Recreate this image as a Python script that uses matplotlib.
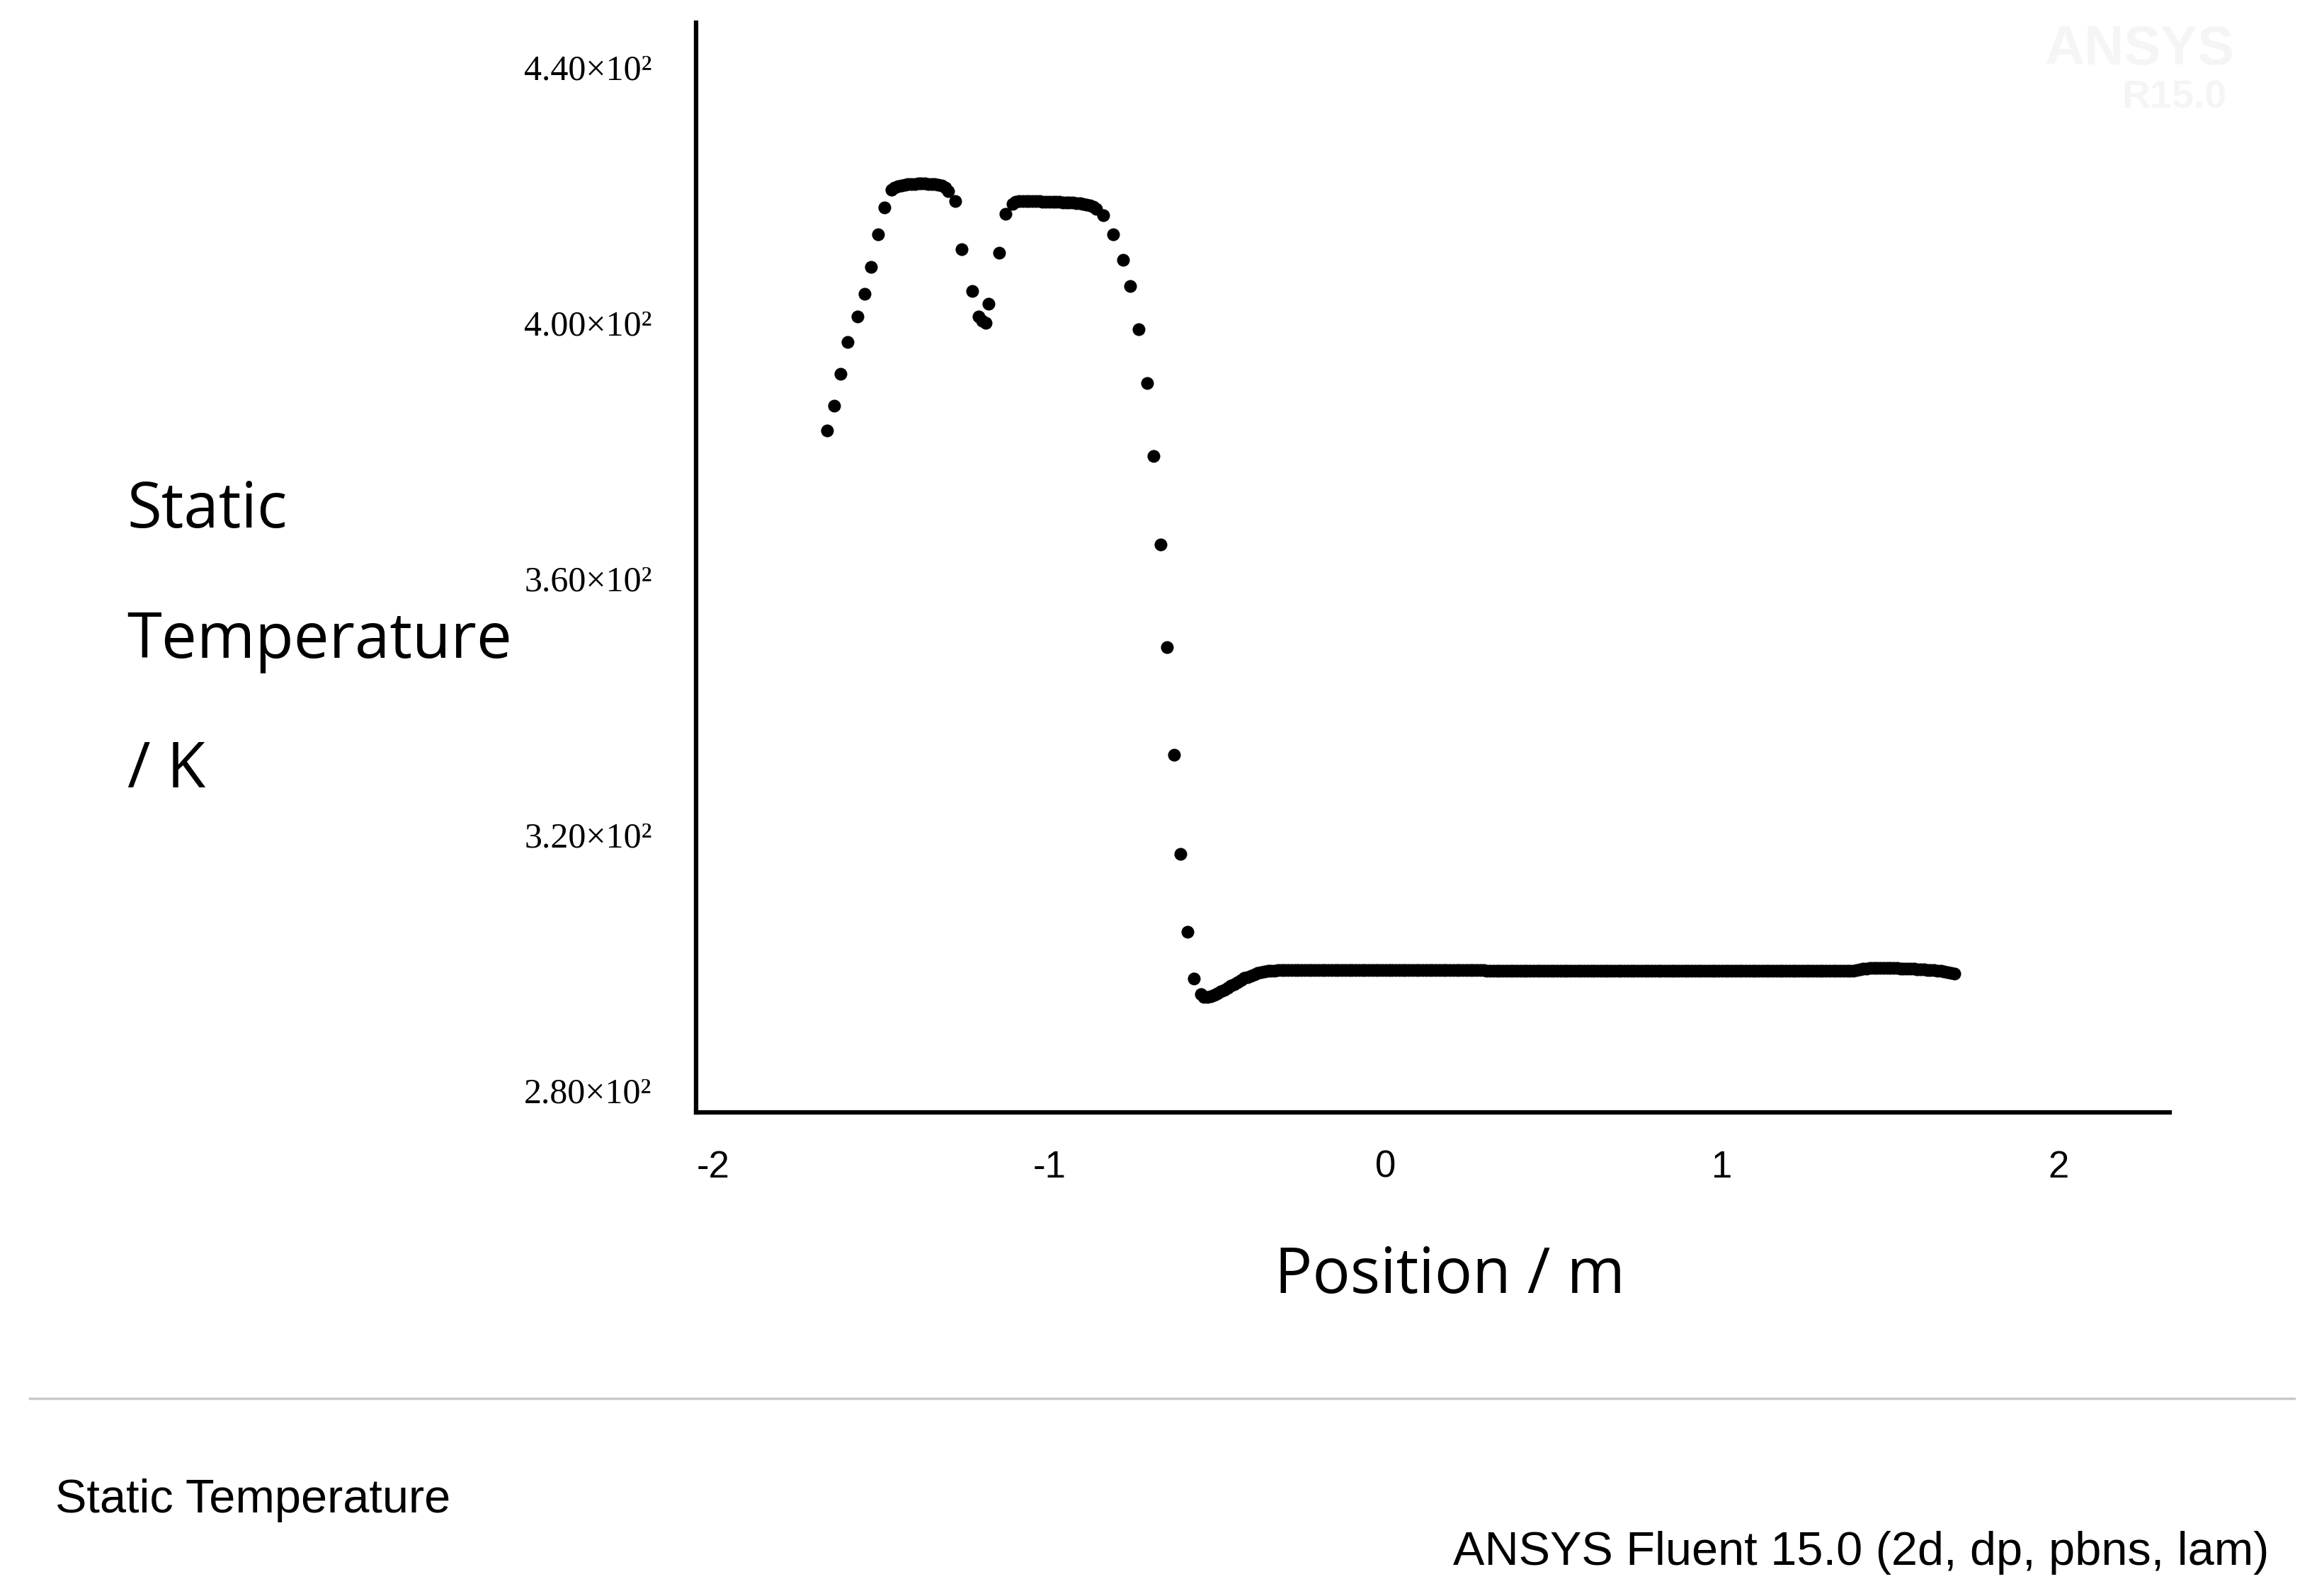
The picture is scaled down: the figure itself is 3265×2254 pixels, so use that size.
import numpy as np
import matplotlib
matplotlib.use("Agg")
import matplotlib.pyplot as plt
from matplotlib.lines import Line2D

# rising flank
x_rise = [-1.66, -1.64, -1.62, -1.60, -1.57, -1.55, -1.53, -1.51, -1.49]
y_rise = [383.2, 387.0, 392.0, 397.0, 401.0, 404.5, 408.7, 413.8, 418.0]
# first plateau
x_p1 = [-1.47, -1.46, -1.45, -1.44, -1.43, -1.42, -1.41, -1.40, -1.39, -1.38, -1.37, -1.36, -1.35, -1.34, -1.33, -1.32, -1.31, -1.30]
y_p1 = [420.8, 421.2, 421.4, 421.5, 421.6, 421.7, 421.7, 421.7, 421.8, 421.8, 421.8, 421.7, 421.7, 421.7, 421.6, 421.5, 421.2, 420.6]
# dip between plateaus
x_dip = [-1.28, -1.26, -1.23, -1.21, -1.20, -1.19, -1.18, -1.15, -1.13]
y_dip = [419.0, 411.5, 405.0, 401.0, 400.3, 400.0, 403.0, 411.0, 417.0]
# second plateau
x_p2 = [-1.11, -1.10, -1.09, -1.08, -1.07, -1.06, -1.05, -1.04, -1.03, -1.02, -1.01, -1.00, -0.99, -0.98, -0.97, -0.96, -0.95, -0.94, -0.93, -0.92, -0.91, -0.90, -0.89, -0.88, -0.87, -0.86]
y_p2 = [418.6, 418.9, 419.0, 419.0, 419.0, 419.0, 419.0, 419.0, 419.0, 418.9, 418.9, 418.9, 418.9, 418.9, 418.9, 418.8, 418.8, 418.8, 418.8, 418.7, 418.7, 418.6, 418.5, 418.4, 418.2, 417.8]
# falling flank
x_fall = [-0.84, -0.81, -0.78, -0.76, -0.735, -0.71, -0.69, -0.67, -0.65, -0.63, -0.61, -0.59, -0.57, -0.55, -0.54, -0.53, -0.52, -0.51]
y_fall = [416.8, 413.8, 409.9, 405.7, 399.0, 390.6, 379.2, 365.3, 349.3, 332.4, 316.9, 304.8, 297.4, 295.0, 294.6, 294.6, 294.7, 294.9]
# recovery
x_rec = [-0.50, -0.49, -0.48, -0.47, -0.46, -0.45, -0.44, -0.43, -0.42, -0.41, -0.40, -0.39, -0.38, -0.37, -0.36, -0.35, -0.34, -0.33, -0.32, -0.31]
y_rec = [295.1, 295.4, 295.7, 296.0, 296.3, 296.6, 296.9, 297.2, 297.5, 297.7, 297.9, 298.1, 298.3, 298.4, 298.5, 298.6, 298.7, 298.7, 298.8, 298.8]
# downstream flat section
x_flat = list(np.round(np.arange(-0.30, 1.695, 0.01), 3))
y_flat = ([298.8] * 60 + [298.7] * 60 + [298.6] * 50 + [298.8, 298.9, 299.0, 299.0, 299.1, 299.1, 299.1, 299.1, 299.1, 299.1,
          299.1, 299.1, 299.1, 299.0, 299.0, 299.0, 299.0, 299.0, 298.9, 298.9, 298.9, 298.8, 298.8, 298.8, 298.7, 298.6, 298.5, 298.4, 298.3, 298.2])
y_flat = y_flat[:len(x_flat)]

x = x_rise + x_p1 + x_dip + x_p2 + x_fall + x_rec + x_flat
y = y_rise + y_p1 + y_dip + y_p2 + y_fall + y_rec + y_flat

yticks = [280, 320, 360, 400, 440]
ytick_labels = ["2.80×10²", "3.20×10²", "3.60×10²", "4.00×10²", "4.40×10²"]
xticks = [-2, -1, 0, 1, 2]

fig = plt.figure(figsize=(32.66, 22.54), dpi=100)
ax = fig.add_axes([0.301, 0.303, 0.637, 0.683])
ax.plot(x, y, 'o', color='black', markersize=13, markeredgewidth=0)
ax.set_xlim(-2.05, 2.33)
ax.set_ylim(276.5, 447)
for s in ['top', 'right']:
    ax.spines[s].set_visible(False)
for s in ['left', 'bottom']:
    ax.spines[s].set_linewidth(4.5)
ax.set_yticks(yticks)
ax.set_yticklabels(ytick_labels, fontfamily='Liberation Serif', fontsize=36)
ax.set_xticks(xticks)
ax.set_xticklabels([str(v) for v in xticks], fontfamily='Liberation Sans', fontsize=38)
ax.tick_params(axis='y', length=0, pad=45)
ax.tick_params(axis='x', length=0, pad=38)

fig.text(0.627, 0.20, "Position / m", fontsize=64, fontfamily='Open Sans', ha='center', va='center')
fig.text(0.055, 0.68, "Static", fontsize=64, fontfamily='Open Sans', va='center')
fig.text(0.055, 0.598, "Temperature", fontsize=64, fontfamily='Open Sans', va='center')
fig.text(0.055, 0.517, "/ K", fontsize=64, fontfamily='Open Sans', va='center')

fig.add_artist(Line2D([0.013, 0.992], [0.124, 0.124], color='#c8c8c8', linewidth=2.5, transform=fig.transFigure))
fig.text(0.024, 0.060, "Static Temperature", fontsize=48, fontfamily='Liberation Sans', va='center')
fig.text(0.981, 0.027, "ANSYS Fluent 15.0 (2d, dp, pbns, lam)", fontsize=48, fontfamily='Liberation Sans', va='center', ha='right')
fig.text(0.925, 0.985, "ANSYS", fontsize=56, color='#f3f6f3', fontweight='bold', ha='center', va='top', fontfamily='Liberation Sans')
fig.text(0.94, 0.95, "R15.0", fontsize=40, color='#f3f6f3', fontweight='bold', ha='center', va='top', fontfamily='Liberation Sans')

fig.savefig("out.png", dpi=100)
